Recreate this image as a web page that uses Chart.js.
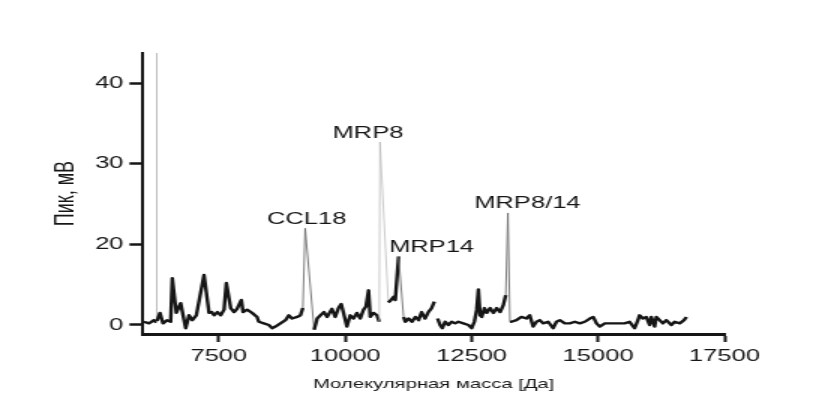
<!DOCTYPE html>
<html>
<head>
<meta charset="utf-8">
<script src="https://cdn.jsdelivr.net/npm/chart.js@4.4.1/dist/chart.umd.min.js"></script>
<style>
  html, body { margin: 0; padding: 0; background: #fff; overflow: hidden; }
  #wrap { width: 840px; height: 405px; }
</style>
</head>
<body>
<div id="wrap"><canvas id="spectrum" width="560" height="405" style="width:840px;height:405px"></canvas></div>
<script>
// mass axis, Da
const massDa = [6020, 6119, 6218, 6265, 6271, 6277, 6337, 6396, 6475, 6548,
  6580, 6659, 6746, 6845, 6911, 6976, 7055, 7208, 7307, 7360,
  7406, 7471, 7538, 7604, 7649, 7736, 7802, 7861, 7946, 7980,
  8059, 8158, 8257, 8291, 8390, 8489, 8554, 8620, 8719, 8818,
  8885, 8950, 9049, 9115, 9162, 9208, 9386, 9445, 9511, 9578,
  9643, 9736, 9802, 9867, 9920, 9966, 10033, 10099, 10164, 10231,
  10297, 10362, 10410, 10461, 10495, 10560, 10627, 10673, 10687, 10852,
  10891, 10957, 10990, 11055, 11154, 11188, 11253, 11321, 11386, 11451,
  11511, 11578, 11643, 11709, 11762, 11795, 11827, 11875, 11920, 11974,
  12039, 12105, 12172, 12237, 12336, 12435, 12500, 12554, 12600, 12633,
  12667, 12699, 12752, 12797, 12865, 12930, 12995, 13063, 13128, 13174,
  13217, 13257, 13286, 13385, 13484, 13583, 13649, 13716, 13782, 13847,
  13914, 14013, 14112, 14177, 14243, 14342, 14441, 14540, 14639, 14738,
  14837, 14904, 14969, 15034, 15133, 15260, 15390, 15524, 15623, 15722,
  15788, 15820, 15886, 15953, 16019, 16053, 16118, 16152, 16217, 16283,
  16350, 16449, 16515, 16614, 16700, 16747];

// signal in axis units (the "0" tick sits at 10 on the drawn scale)
const signal = [10.4, 10.2, 10.6, 10.3, 60, 10.5, 11.5, 10.2, 10.6, 10.4,
  15.8, 11.5, 12.7, 9.6, 11.2, 10.6, 11.2, 16.2, 11.5, 11.6,
  11.2, 11.6, 11.2, 11.9, 15.2, 12.1, 11.6, 12.0, 13.1, 11.6,
  11.9, 11.5, 11.0, 10.4, 10.2, 10.0, 9.6, 9.8, 10.2, 10.6,
  11.2, 10.8, 11.0, 11.2, 12.1, 22.0, 9.4, 10.8, 11.2, 11.6,
  11.0, 12.0, 11.0, 12.1, 12.6, 11.5, 9.8, 11.2, 10.8, 11.5,
  10.8, 11.9, 12.3, 14.3, 11.0, 11.5, 11.2, 10.4, 32.7, 12.8,
  13.0, 13.5, 13.1, 18.5, 11.0, 10.4, 10.8, 10.4, 11.0, 10.6,
  11.6, 10.8, 11.6, 12.1, 12.9, null, 10.8, 10.0, 9.6, 10.4,
  10.0, 10.4, 10.2, 10.4, 10.2, 10.0, 9.6, 10.4, 11.9, 14.4,
  11.2, 11.0, 12.1, 11.5, 12.1, 11.5, 12.1, 11.6, 12.5, 13.7,
  23.9, 10.4, 10.4, 10.6, 11.0, 10.8, 11.2, 9.8, 10.4, 10.6,
  10.2, 10.4, 9.6, 10.4, 10.6, 10.2, 10.2, 10.4, 10.2, 10.4,
  10.8, 11.0, 10.2, 9.8, 10.2, 10.2, 10.2, 10.2, 10.4, 9.6,
  10.6, 11.2, 10.8, 11.0, 10.0, 11.0, 9.8, 11.0, 10.6, 10.2,
  10.6, 10.0, 10.4, 10.2, 10.6, 11.0];

const xTickValues = [7500, 10000, 12500, 15000, 17500];
const yTickValues = [10, 20, 30, 40];
const yTickLabels = ["0", "20", "30", "40"];

const peakNames = ["CCL18", "MRP8", "MRP14", "MRP8/14"];
const peakMasses = [9208, 10687, 11055, 13217];

const FONT = '"Liberation Sans", Arial, sans-serif';
const INK = "#161616";
// label offset from its peak, canvas px (canvas is shown 1.5x wider via css)
const labelShift = [[1, -4], [-8, -4], [22, -4], [13, -5]];

function nearestIndex(m) {
  let best = 0;
  massDa.forEach((v, i) => {
    if (Math.abs(v - m) < Math.abs(massDa[best] - m)) best = i;
  });
  return best;
}

function rise(ctx) {
  return Math.abs(ctx.p1.y - ctx.p0.y);
}

const peakLabels = {
  id: "peakLabels",
  afterDatasetsDraw(chart) {
    const { ctx, scales: { x, y } } = chart;
    ctx.save();
    ctx.font = "17px " + FONT;
    ctx.fillStyle = INK;
    ctx.textAlign = "center";
    ctx.textBaseline = "alphabetic";
    peakNames.forEach((name, i) => {
      const idx = nearestIndex(peakMasses[i]);
      const px = x.getPixelForValue(massDa[idx]) + labelShift[i][0];
      const py = y.getPixelForValue(signal[idx]) + labelShift[i][1];
      ctx.fillText(name, px, py);
    });
    ctx.restore();
  }
};

const ctx = document.getElementById("spectrum").getContext("2d");

new Chart(ctx, {
  type: "line",
  data: {
    datasets: [{
      data: massDa.map((m, i) => ({ x: m, y: signal[i] })),
      borderColor: INK,
      borderWidth: 2.4,
      pointRadius: 0,
      tension: 0,
      spanGaps: false,
      borderJoinStyle: "round",
      segment: {
        borderColor: c => rise(c) > 150 ? "#b4b4b4" : rise(c) > 55 ? "#6e6e6e" : INK,
        borderWidth: c => rise(c) > 150 ? 0.7 : rise(c) > 55 ? 0.9 : 2.4
      }
    }]
  },
  options: {
    responsive: false,
    animation: false,
    devicePixelRatio: 1,
    layout: { padding: { top: 53, right: 77, bottom: 0, left: 0 } },
    plugins: {
      legend: { display: false },
      tooltip: { enabled: false }
    },
    scales: {
      x: {
        type: "linear",
        min: 6000,
        max: 17500,
        afterBuildTicks: s => { s.ticks = xTickValues.map(v => ({ value: v })); },
        afterFit: s => { s.height = 71; },
        ticks: {
          color: INK,
          font: { family: FONT, size: 17 },
          padding: 4,
          maxRotation: 0,
          autoSkip: false,
          callback: v => String(v)
        },
        grid: {
          drawOnChartArea: false,
          drawTicks: true,
          tickLength: 8,
          tickWidth: 2,
          tickColor: INK
        },
        border: { display: true, color: INK, width: 3 },
        title: {
          display: true,
          text: "Молекулярная масса [Да]",
          color: INK,
          font: { family: FONT, size: 13.5 },
          padding: { top: 0, bottom: 13 }
        }
      },
      y: {
        type: "linear",
        min: 8.88,
        max: 43.75,
        afterBuildTicks: s => { s.ticks = yTickValues.map(v => ({ value: v })); },
        afterFit: s => { s.width = 95.3; },
        ticks: {
          color: INK,
          font: { family: FONT, size: 17 },
          padding: 4,
          callback: v => yTickLabels[yTickValues.indexOf(v)]
        },
        grid: {
          drawOnChartArea: false,
          drawTicks: true,
          tickLength: 9,
          tickWidth: 2.5,
          tickColor: INK
        },
        border: { display: true, color: INK, width: 2 },
        title: {
          display: true,
          text: "Пик, мВ",
          color: INK,
          font: { family: FONT, size: 18 },
          padding: { top: 33, bottom: 0 }
        }
      }
    }
  },
  plugins: [peakLabels]
});
</script>
</body>
</html>
